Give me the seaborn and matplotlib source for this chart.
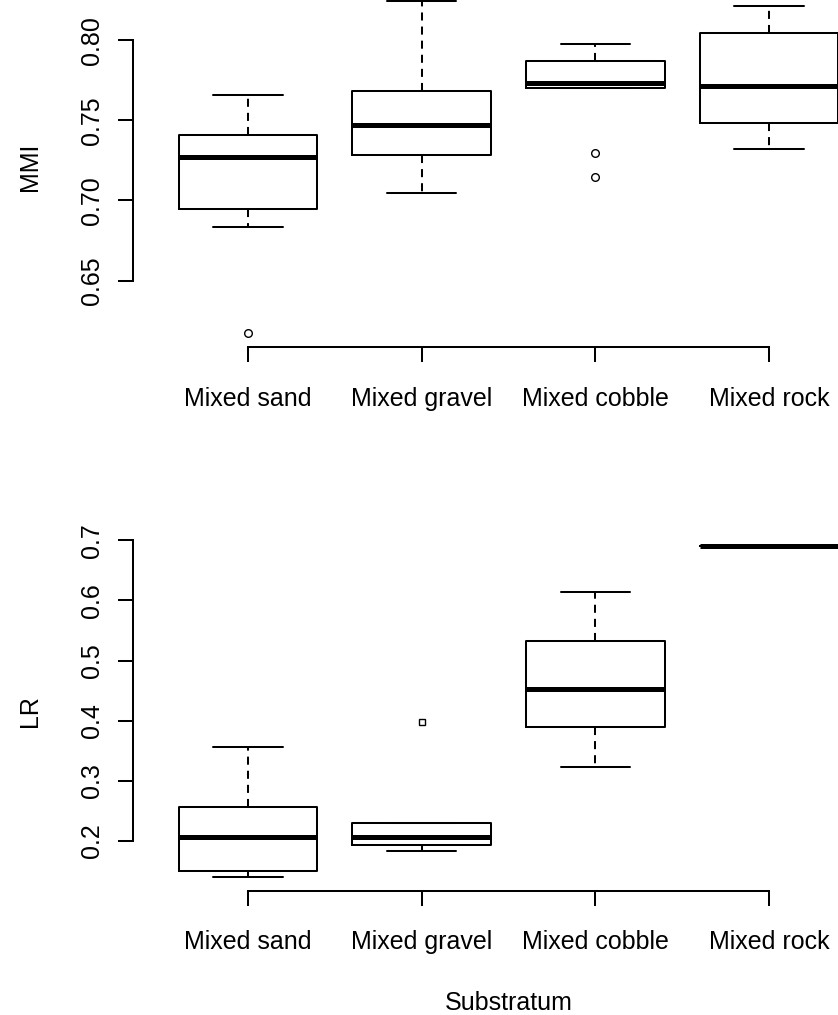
import numpy as np
import pandas as pd
import matplotlib
matplotlib.use("Agg")
import matplotlib.pyplot as plt
import seaborn as sns

# ---- data -----------------------------------------------------------------
substrata = ["Mixed sand", "Mixed gravel", "Mixed cobble", "Mixed rock"]

# MMI observations by substratum
mmi_sand = [0.617, 0.6837, 0.6948, 0.6948, 0.7274, 0.7274, 0.741, 0.741, 0.766]
mmi_gravel = [0.7049, 0.7286, 0.7473, 0.7685, 0.8245]
mmi_cobble = [0.7149, 0.7299, 0.770, 0.770, 0.7735, 0.7735, 0.7872, 0.7872, 0.7974]
mmi_rock = [0.7324, 0.7486, 0.7712, 0.8047, 0.8211]

# LR observations by substratum
lr_sand = [0.1393, 0.1505, 0.206, 0.256, 0.356]
lr_gravel = [0.1827, 0.1933, 0.1933, 0.206, 0.206, 0.2293, 0.2293, 0.2293, 0.3977]
lr_cobble = [0.3227, 0.3893, 0.4533, 0.5327, 0.6133]
lr_rock = [0.691, 0.691, 0.691]

mmi_ticks = [0.65, 0.70, 0.75, 0.80]
mmi_tick_labels = ["0.65", "0.70", "0.75", "0.80"]
lr_ticks = [0.2, 0.3, 0.4, 0.5, 0.6, 0.7]
lr_tick_labels = ["0.2", "0.3", "0.4", "0.5", "0.6", "0.7"]

# ---- style ----------------------------------------------------------------
sns.set_style("ticks")
plt.rcParams["font.family"] = ["Liberation Sans", "DejaVu Sans"]
plt.rcParams["font.size"] = 18
plt.rcParams["text.color"] = "black"
plt.rcParams["axes.labelcolor"] = "black"
plt.rcParams["xtick.color"] = "black"
plt.rcParams["ytick.color"] = "black"

LW = 1.45          # base line width (pt)
TICK_LEN = 10.5    # pt

W, H = 838, 1015
fig = plt.figure(figsize=(W / 100, H / 100), dpi=100)
fig.patch.set_facecolor("white")


def px_axes(left, top, right, bottom):
    """Axes placed by pixel edges measured from the top-left corner."""
    return fig.add_axes([left / W, 1 - bottom / H, (right - left) / W, (bottom - top) / H])


def long_frame(groups, name):
    return pd.DataFrame({
        "Substratum": np.repeat(substrata, [len(g) for g in groups]),
        name: np.concatenate(groups),
    })


def draw_panel(ax, groups, name, ticks, tick_labels, flier_marker, flier_size):
    df = long_frame(groups, name)
    sns.boxplot(
        data=df, x="Substratum", y=name, order=substrata, ax=ax,
        width=0.8, fill=False, color="black", linewidth=LW, whis=1.5,
        capwidths=0.4,
        medianprops=dict(color="black", linewidth=3.6, solid_capstyle="butt"),
        whiskerprops=dict(color="black", linestyle=(0, (4, 3)), linewidth=LW),
        capprops=dict(color="black", linewidth=LW),
        boxprops=dict(color="black", linewidth=LW),
        flierprops=dict(marker=flier_marker, markersize=flier_size,
                        markerfacecolor="none", markeredgecolor="black",
                        markeredgewidth=1.0),
    )
    # R-style limits: categories at 1..n with 4% padding, data range +4%
    vals = np.concatenate(groups)
    lo, hi = vals.min(), vals.max()
    pad = 0.04 * (hi - lo)
    ax.set_ylim(lo - pad, hi + pad)
    ax.set_xlim(-0.66, 3.66)
    ax.set_yticks(ticks)
    ax.set_yticklabels(tick_labels)
    ax.set_xticks(range(len(substrata)))
    ax.set_xticklabels(substrata)
    ax.tick_params(axis="both", length=TICK_LEN, width=LW, labelsize=18)
    ax.tick_params(axis="y", pad=11)
    for lab in ax.get_yticklabels():
        lab.set_rotation(90)
        lab.set_va("center")
        lab.set_ha("right")
    sns.despine(ax=ax, trim=True)
    for side in ("left", "bottom"):
        ax.spines[side].set_linewidth(LW)
        ax.spines[side].set_color("black")
    ax.set_ylabel(name, fontsize=18)
    ax.yaxis.label.set_va("baseline")
    ax.yaxis.set_label_coords(-0.1285, 0.5)
    ax.set_facecolor("white")


ax1 = px_axes(133.4, -12.3, 883.6, 346.7)
ax2 = px_axes(133.4, 532.5, 883.6, 890.5)

draw_panel(ax1, [mmi_sand, mmi_gravel, mmi_cobble, mmi_rock], "MMI",
           mmi_ticks, mmi_tick_labels, "o", 5.5)
draw_panel(ax2, [lr_sand, lr_gravel, lr_cobble, lr_rock], "LR",
           lr_ticks, lr_tick_labels, "s", 5.0)

ax1.tick_params(axis="x", pad=18.5)
ax2.tick_params(axis="x", pad=18.0)
ax1.set_xlabel("")
ax2.set_xlabel("Substratum", fontsize=18)
ax2.xaxis.label.set_va("baseline")
ax2.xaxis.set_label_coords(0.5, -0.3339)

fig.savefig("out.png", dpi=100, facecolor="white")
